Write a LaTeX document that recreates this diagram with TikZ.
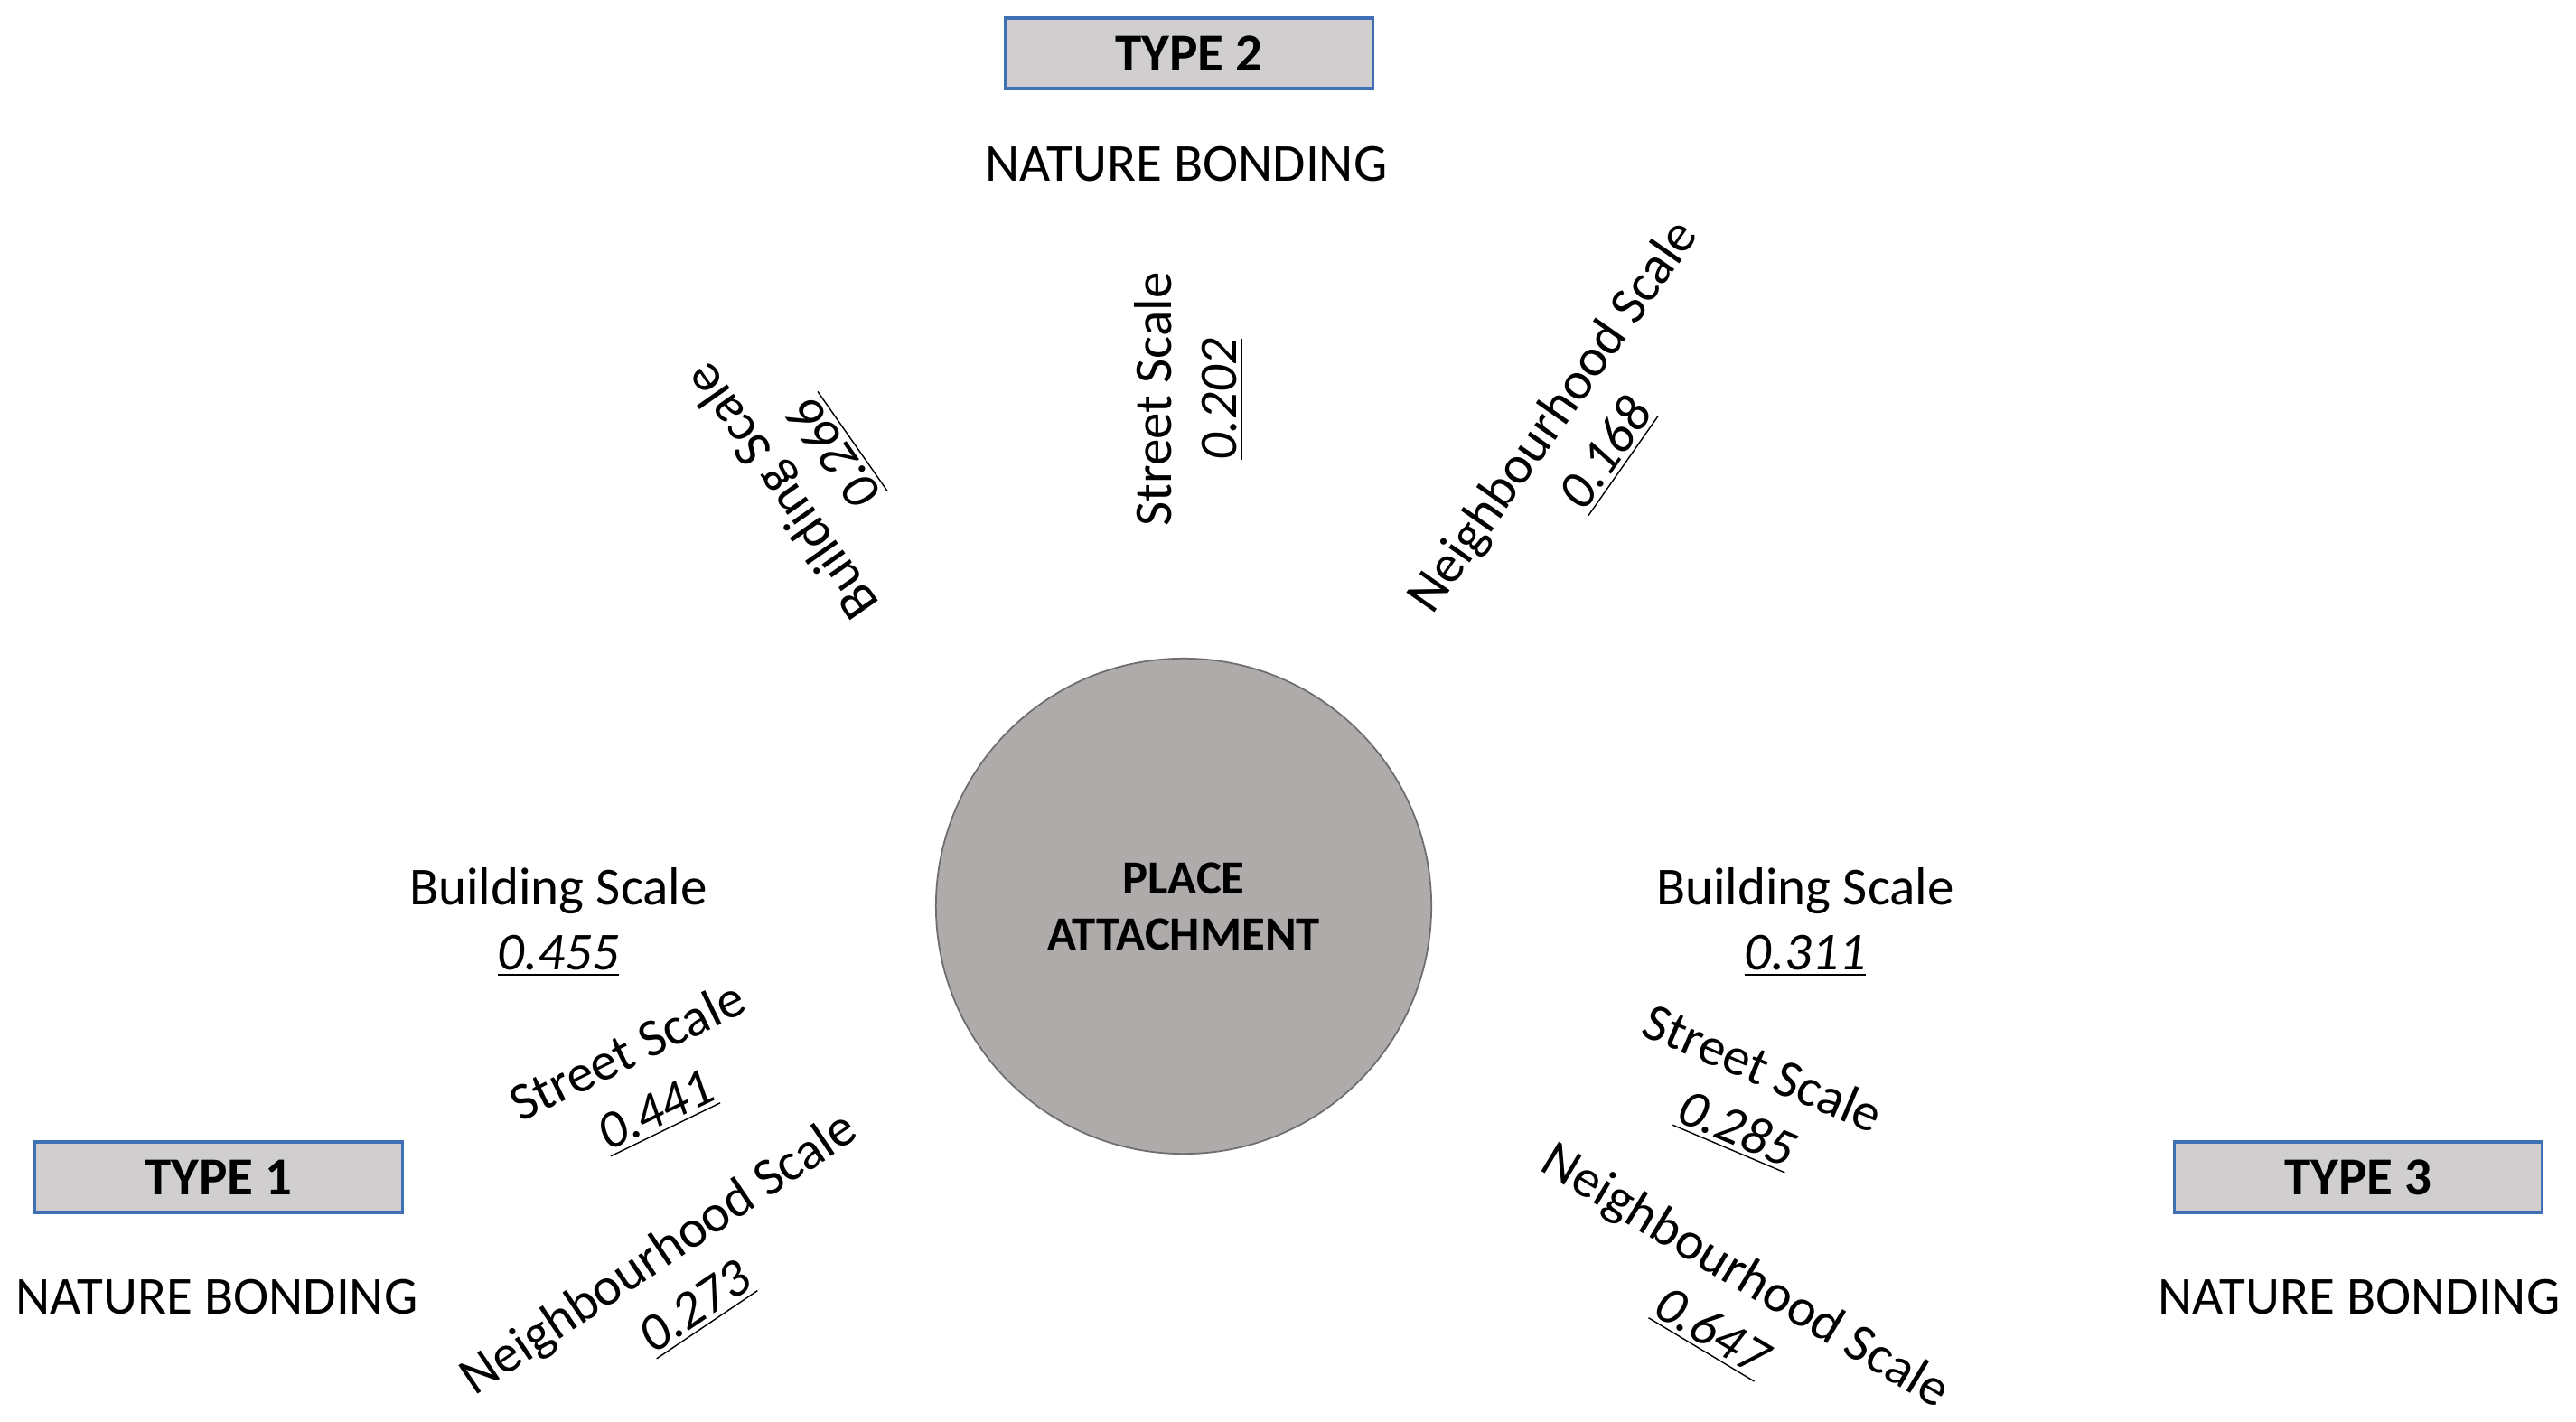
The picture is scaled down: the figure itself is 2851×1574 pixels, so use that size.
\documentclass[tikz,border=0pt]{standalone}
\usepackage{fontspec}
\setmainfont{Carlito}
\definecolor{boxfill}{HTML}{D0CECE}
\definecolor{boxline}{HTML}{3F6FB5}
\definecolor{circfill}{HTML}{AFABAB}
\definecolor{circline}{HTML}{6E6E6E}
\newcommand{\val}[1]{\underline{\textit{#1}}}
\begin{document}
\begin{tikzpicture}[x=0.01cm,y=-0.01cm,
  tbox/.style={draw=boxline,line width=1pt,fill=boxfill,minimum width=4.07cm,minimum height=0.78cm,inner sep=0pt,font=\fontsize{16.8}{20.5}\selectfont\bfseries},
  nbond/.style={inner sep=0pt,font=\fontsize{16.8}{20.5}\selectfont},
  lbl/.style={inner sep=0pt,align=center,font=\fontsize{16.8}{20.5}\selectfont},
  core/.style={circle,draw=circline,line width=0.5pt,fill=circfill,minimum size=5.48cm,inner sep=0pt,align=center,font=\fontsize{15}{17.6}\selectfont\bfseries}]
\useasboundingbox (0,0) rectangle (2851,1574);
% centre
\node[core] (pa) at (1310,1003) {PLACE\\ATTACHMENT};
% type boxes
\node[tbox] (t2) at (1316,59) {TYPE 2};
\node[nbond] (nb2) at (1313,182) {NATURE BONDING};
\node[tbox] (t1) at (242,1303) {TYPE 1};
\node[nbond] (nb1) at (240,1436) {NATURE BONDING};
\node[tbox] (t3) at (2610,1303) {TYPE 3};
\node[nbond] (nb3) at (2611,1436) {NATURE BONDING};
% type 1 labels
\node[lbl] (b1) at (618,1021) {Building Scale\\\val{0.455}};
\node[lbl,rotate=26] (s1) at (711,1198) {Street Scale\\\val{0.441}};
\node[lbl,rotate=34] (n1) at (750,1418) {Neighbourhood Scale\\\val{0.273}};
% type 2 labels
\node[lbl,rotate=125] (b2) at (896,522) {Building Scale\\\val{0.266}};
\node[lbl,rotate=90] (s2) at (1316,442) {Street Scale\\\val{0.202}};
\node[lbl,rotate=55] (n2) at (1749,482) {Neighbourhood Scale\\\val{0.168}};
% type 3 labels
\node[lbl] (b3) at (1998,1021) {Building Scale\\\val{0.311}};
\node[lbl,rotate=-23] (s3) at (1936,1218) {Street Scale\\\val{0.285}};
\node[lbl,rotate=-31] (n3) at (1913,1444) {Neighbourhood Scale\\\val{0.647}};
\end{tikzpicture}
\end{document}
